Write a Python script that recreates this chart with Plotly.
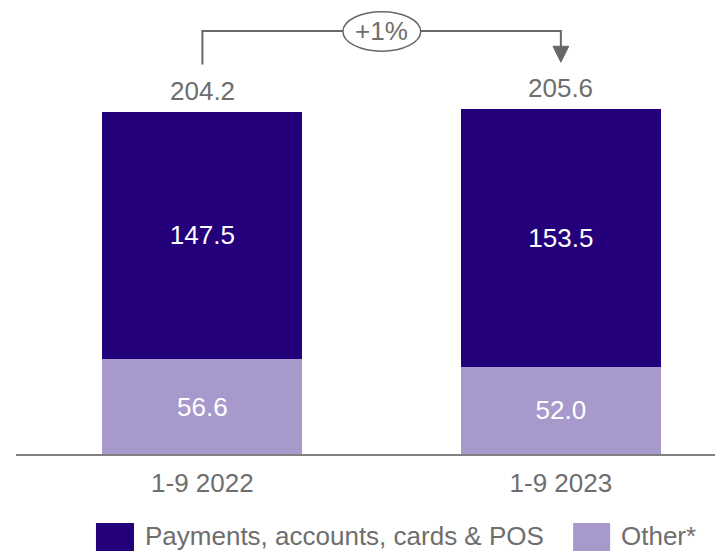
import plotly.graph_objects as go

# Income by category, 1-9 months comparison
periods = ["1-9 2022", "1-9 2023"]
payments = [147.5, 153.5]
other = [56.6, 52.0]
totals = [204.2, 205.6]
series_names = ["Payments, accounts, cards & POS", "Other*"]
change_label = "+1%"

DARK = "#24007A"
LIGHT = "#A899CC"
GREY = "#6E6E6E"
LINE = "#66686B"
FONT = "Liberation Sans, Arial, sans-serif"
FS = 26

fig = go.Figure()
fig.add_trace(go.Bar(
    x=periods, y=other, name=series_names[1], marker=dict(color=LIGHT, line=dict(width=0)),
    text=[f"{v:.1f}" for v in other], textposition="inside", insidetextanchor="middle",
    textfont=dict(color="white", size=FS, family=FONT), width=0.558,
))
fig.add_trace(go.Bar(
    x=periods, y=payments, name=series_names[0], marker=dict(color=DARK, line=dict(width=0)),
    text=[f"{v:.1f}" for v in payments], textposition="inside", insidetextanchor="middle",
    textfont=dict(color="white", size=FS, family=FONT), width=0.558,
))

# total labels above each stack
for i, t in enumerate(totals):
    fig.add_annotation(x=i, y=t, text=f"{t:.1f}", showarrow=False, yanchor="bottom",
                       yshift=4, font=dict(size=FS, color=GREY, family=FONT))

# growth bracket with arrow from first to second total
gap = 28
top = max(totals) + 46.6
fig.add_shape(type="path", xref="x", yref="y",
              path=f"M 0 {totals[0] + gap} L 0 {top} L 1 {top} L 1 {totals[1] + gap + 8}",
              line=dict(color=LINE, width=2))
fig.add_shape(type="path", xref="x", yref="y",
              path=f"M 0.978 {totals[1] + gap + 9.5} L 1.022 {totals[1] + gap + 9.5} "
                   f"L 1 {totals[1] + gap} Z",
              line=dict(color=LINE, width=1), fillcolor=LINE)
fig.add_shape(type="circle", xref="x", yref="y",
              x0=0.392, x1=0.609, y0=top - 12, y1=top + 11.5,
              line=dict(color=LINE, width=1.5), fillcolor="white")
fig.add_annotation(x=0.5, y=top, text=change_label, showarrow=False,
                   font=dict(size=FS, color=GREY, family=FONT))

# legend drawn below the axis
legend_items = [(series_names[0], DARK, 0.1144, 0.1688), (series_names[1], LIGHT, 0.797, 0.850)]
for name, color, x0, x1 in legend_items:
    fig.add_shape(type="rect", xref="paper", yref="paper", x0=x0, x1=x1, y0=-0.235, y1=-0.152,
                  fillcolor=color, line=dict(width=0))
    fig.add_annotation(xref="paper", yref="paper", x=x1 + 0.013, y=-0.1806, text=name,
                       showarrow=False, xanchor="left", yanchor="middle",
                       font=dict(size=FS, color=GREY, family=FONT))

fig.update_layout(
    barmode="stack",
    width=715, height=551,
    margin=dict(l=16, r=0, t=0, b=97),
    paper_bgcolor="white", plot_bgcolor="white",
    showlegend=False,
    font=dict(family=FONT, color=GREY),
    xaxis=dict(range=[-0.52, 1.43], showline=True, linecolor="#808080", linewidth=2,
               ticks="", ticklabelstandoff=5,
               tickfont=dict(size=FS, color=GREY, family=FONT), showgrid=False),
    yaxis=dict(range=[0, 270.7], visible=False, showgrid=False),
)

fig.write_html("out.html")
